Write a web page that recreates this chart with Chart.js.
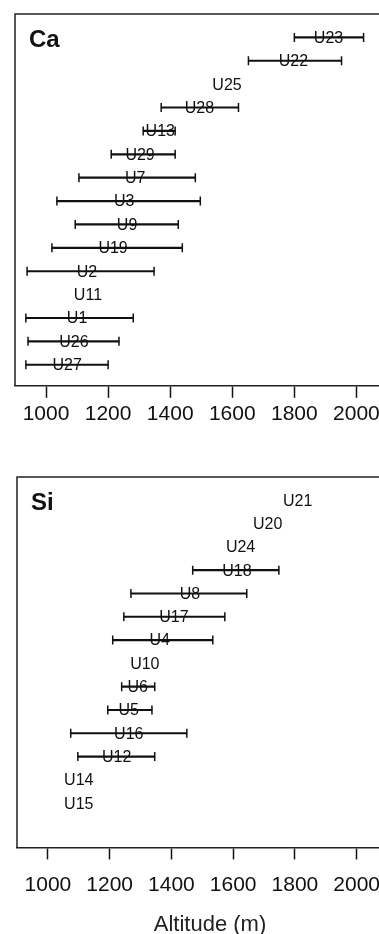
<!DOCTYPE html>
<html>
<head>
<meta charset="utf-8">
<script src="https://cdn.jsdelivr.net/npm/chart.js@4"></script>
<style>
  html, body { margin: 0; padding: 0; background: #fff; width: 379px; height: 934px; overflow: hidden; }
  .panel { position: absolute; left: 0; }
  #painelCa { top: 0; }
  #painelSi { top: 460px; }
</style>
</head>
<body>
<div class="panel" id="painelCa"><canvas id="graficoCa" width="420" height="440"></canvas></div>
<div class="panel" id="painelSi"><canvas id="graficoSi" width="420" height="484"></canvas></div>
<script>
// Eixo de altitude (m)
const tickValues = [1000, 1200, 1400, 1600, 1800, 2000];

// Painel Ca: unidades, altitude central e intervalo (min/max)
const caUnits = ['U23', 'U22', 'U25', 'U28', 'U13', 'U29', 'U7', 'U3', 'U9', 'U19', 'U2', 'U11', 'U1', 'U26', 'U27'];
const caMid = [1910, 1797, 1583, 1494, 1368, 1303, 1287, 1252, 1261, 1216, 1132, 1135, 1100, 1090, 1068];
const caLow = [1800, 1652, null, 1371, 1313, 1210, 1106, 1035, 1094, 1019, 939, null, 935, 942, 935];
const caHigh = [2023, 1952, null, 1620, 1416, 1416, 1481, 1497, 1426, 1439, 1348, null, 1281, 1235, 1200];

// Painel Si
const siUnits = ['U21', 'U20', 'U24', 'U18', 'U8', 'U17', 'U4', 'U10', 'U6', 'U5', 'U16', 'U12', 'U14', 'U15'];
const siMid = [1809, 1712, 1624, 1612, 1460, 1408, 1362, 1314, 1291, 1262, 1262, 1223, 1100, 1100];
const siLow = [null, null, null, 1469, 1269, 1246, 1210, null, 1239, 1194, 1074, 1097, null, null];
const siHigh = [null, null, null, 1748, 1644, 1573, 1534, null, 1346, 1337, 1450, 1346, null, null];

const FONT = "'Liberation Sans', Arial, Helvetica, sans-serif";
const INK = '#111';

// Moldura (topo e esquerda) e nome do painel
const molduraPlugin = {
    id: 'moldura',
    afterDraw(chart, args, opts) {
        const { ctx, chartArea } = chart;
        ctx.save();
        ctx.strokeStyle = '#222';
        ctx.lineWidth = 1.5;
        ctx.beginPath();
        ctx.moveTo(chartArea.right, chartArea.top);
        ctx.lineTo(chartArea.left, chartArea.top);
        ctx.lineTo(chartArea.left, chartArea.bottom);
        ctx.stroke();
        ctx.fillStyle = INK;
        ctx.font = 'bold 24px ' + FONT;
        ctx.textAlign = 'left';
        ctx.textBaseline = 'middle';
        ctx.fillText(opts.nome, chartArea.left + 14, chart.scales.y.getPixelForValue(1) + 3);
        ctx.restore();
    }
};

// Rótulos das unidades sobre a altitude central
const rotulosPlugin = {
    id: 'rotulos',
    afterDatasetsDraw(chart, args, opts) {
        const { ctx, scales } = chart;
        ctx.save();
        ctx.fillStyle = INK;
        ctx.font = '16px ' + FONT;
        ctx.textAlign = 'center';
        ctx.textBaseline = 'middle';
        opts.units.forEach((u, i) => {
            ctx.fillText(u, scales.x.getPixelForValue(opts.mid[i]), scales.y.getPixelForValue(i + 1) + 1);
        });
        ctx.restore();
    }
};

function criarGrafico(id, nome, units, mid, low, high, comTitulo, padding, tickPad) {
    const barras = [];
    const extremos = [];
    units.forEach((u, i) => {
        if (low[i] === null) return;
        barras.push({ x: [low[i], high[i]], y: i + 1 });
        extremos.push({ x: low[i], y: i + 1 }, { x: high[i], y: i + 1 });
    });

    return new Chart(document.getElementById(id), {
        type: 'bar',
        data: {
            datasets: [{
                data: barras,
                backgroundColor: INK,
                barThickness: 1.5
            }, {
                type: 'scatter',
                data: extremos,
                pointStyle: 'line',
                rotation: 90,
                pointRadius: 4.5,
                borderWidth: 1.5,
                borderColor: INK
            }]
        },
        options: {
            indexAxis: 'y',
            responsive: false,
            animation: false,
            devicePixelRatio: 1,
            layout: { padding: padding },
            plugins: {
                legend: { display: false },
                tooltip: { enabled: false },
                moldura: { nome: nome },
                rotulos: { units: units, mid: mid }
            },
            scales: {
                x: {
                    type: 'linear',
                    min: 900,
                    max: 2150,
                    afterBuildTicks: (scale) => {
                        scale.ticks = tickValues.map(v => ({ value: v }));
                    },
                    grid: {
                        drawOnChartArea: false,
                        tickLength: 12,
                        tickWidth: 1.5,
                        tickColor: INK
                    },
                    border: { display: true, color: '#222', width: 1.5 },
                    ticks: {
                        padding: tickPad,
                        color: INK,
                        font: { family: FONT, size: 21 },
                        maxRotation: 0,
                        autoSkip: false,
                        callback: (v) => String(v)
                    },
                    title: {
                        display: comTitulo,
                        text: 'Altitude (m)',
                        color: '#222',
                        font: { family: FONT, size: 22 },
                        padding: { top: 1, bottom: 0 }
                    }
                },
                y: {
                    type: 'linear',
                    reverse: true,
                    offset: false,
                    min: 0,
                    max: 15.9,
                    display: false
                }
            }
        },
        plugins: [molduraPlugin, rotulosPlugin]
    });
}

document.addEventListener('DOMContentLoaded', function() {
    criarGrafico('graficoCa', 'Ca', caUnits, caMid, caLow, caHigh, false,
        { top: 14, left: 15, right: 17, bottom: 9 }, 4);
    criarGrafico('graficoSi', 'Si', siUnits, siMid, siLow, siHigh, true,
        { top: 17, left: 17, right: 17, bottom: 6 }, 13);
});
</script>
</body>
</html>
